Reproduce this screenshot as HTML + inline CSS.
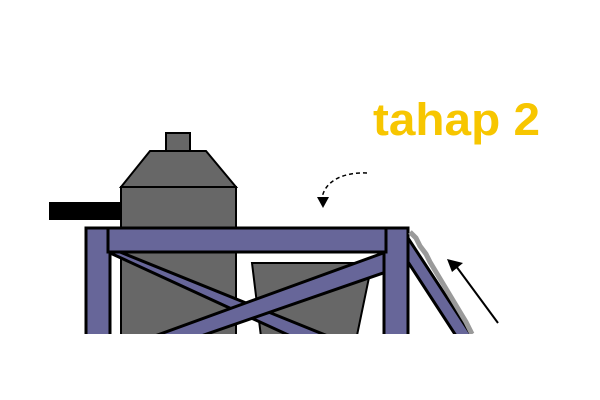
<!DOCTYPE html>
<html><head><style>
html,body{margin:0;padding:0;background:#fff;width:600px;height:400px;overflow:hidden}
</style></head><body>
<svg width="600" height="400" viewBox="0 0 600 400">
<defs><clipPath id="c"><rect x="0" y="0" width="600" height="334"/></clipPath></defs>
<text x="373" y="135" font-family="Liberation Sans, sans-serif" font-weight="bold" font-size="45" textLength="167" lengthAdjust="spacingAndGlyphs" fill="#f7c600">tahap 2</text>
<g clip-path="url(#c)">
<rect x="49" y="202" width="74" height="18" fill="#000"/>
<g stroke="#000" stroke-width="2" fill="#676767">
<rect x="166" y="133" width="24" height="18"/>
<polygon points="150,151 206,151 236,187 121,187"/>
<rect x="121" y="187" width="115" height="160"/>
<polygon points="252,263 372,263 355,345 262,345"/>
</g>
<g stroke="#000" stroke-width="3" fill="#676699">
<polygon points="108,252 120,252 350,345 310,345"/>
<polygon points="386,252 386,272 175,345 130,345"/>
<rect x="86" y="228" width="24" height="120"/>
<rect x="384" y="228" width="24" height="120"/>
<rect x="108" y="228" width="278" height="24"/>
<polygon points="408,238 408,262 462,345 478,345"/>
<polyline points="410,232 416,238 420,246 426,254 430,262 436,272 442,282 448,292 454,302 460,312 466,322 472,334" fill="none" stroke="#9a9a9a" stroke-width="5"/>
</g>
</g>
<g>
<line x1="498" y1="323" x2="456" y2="266" stroke="#000" stroke-width="2"/>
<polygon points="447,259 463,263 452,272" fill="#000"/>
</g>
<g>
<path d="M367,173 C345,172 325,180 322,198" fill="none" stroke="#000" stroke-width="1.5" stroke-dasharray="4,3"/>
<polygon points="317,197 329,197 323,208" fill="#000"/>
</g>
</svg>
</body></html>
